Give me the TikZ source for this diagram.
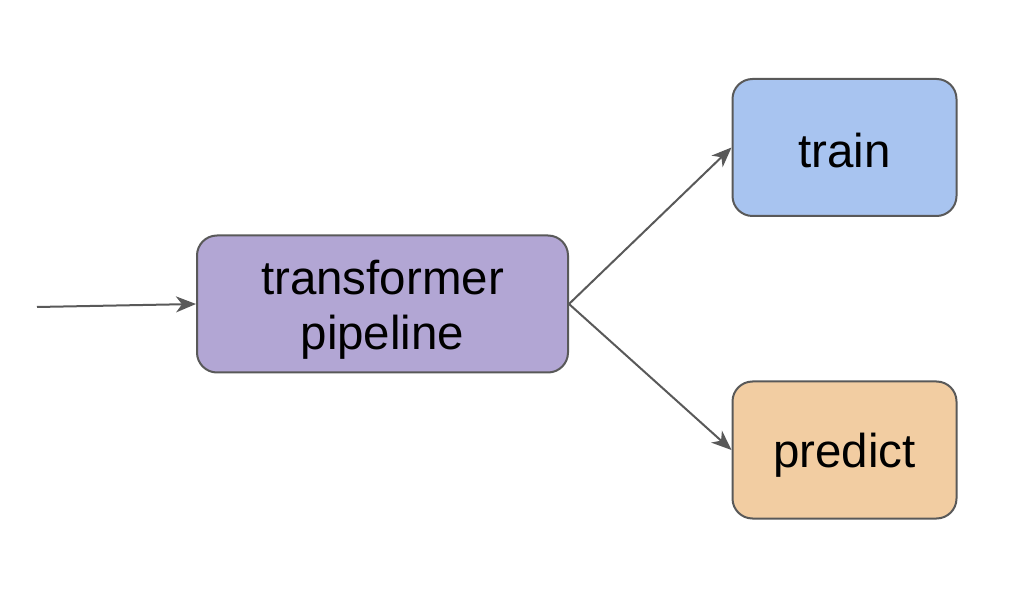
\documentclass[tikz,border=0pt]{standalone}
\usepackage{fontspec}
\setmainfont{Liberation Sans}
\usetikzlibrary{arrows.meta}
\definecolor{edge}{HTML}{595959}
\definecolor{purplefill}{HTML}{B2A6D4}
\definecolor{bluefill}{HTML}{A8C4F0}
\definecolor{orangefill}{HTML}{F2CDA2}
\newcommand{\lowertext}[2]{\raisebox{-#1}[\height][\depth]{#2}}
\tikzset{
  box/.style={draw=edge, line width=2pt, rounded corners=20pt, inner sep=0pt,
    font=\fontsize{47.5}{55}\selectfont},
  conn/.style={draw=edge, line width=2pt, -{Stealth[length=20pt,width=16pt,inset=6pt]}}
}
\begin{document}
\begin{tikzpicture}[x=1pt,y=1pt]
\useasboundingbox (0,0) rectangle (1028,608);
\node[box, fill=purplefill, minimum width=371pt, minimum height=137pt] (pipe) at (382.5,304) {\lowertext{7pt}{\begin{tabular}{@{}c@{}}transformer\\pipeline\end{tabular}}};
\node[box, fill=bluefill, minimum width=224pt, minimum height=137pt] (train) at (844.5,460.5) {\lowertext{3pt}{train}};
\node[box, fill=orangefill, minimum width=224pt, minimum height=137pt] (predict) at (844.5,158) {\lowertext{5pt}{predict}};
\coordinate (in) at (37,301);
\draw[conn] (in) -- (pipe.west);
\draw[conn] (pipe.east) -- (train.west);
\draw[conn] (pipe.east) -- (predict.west);
\end{tikzpicture}
\end{document}
